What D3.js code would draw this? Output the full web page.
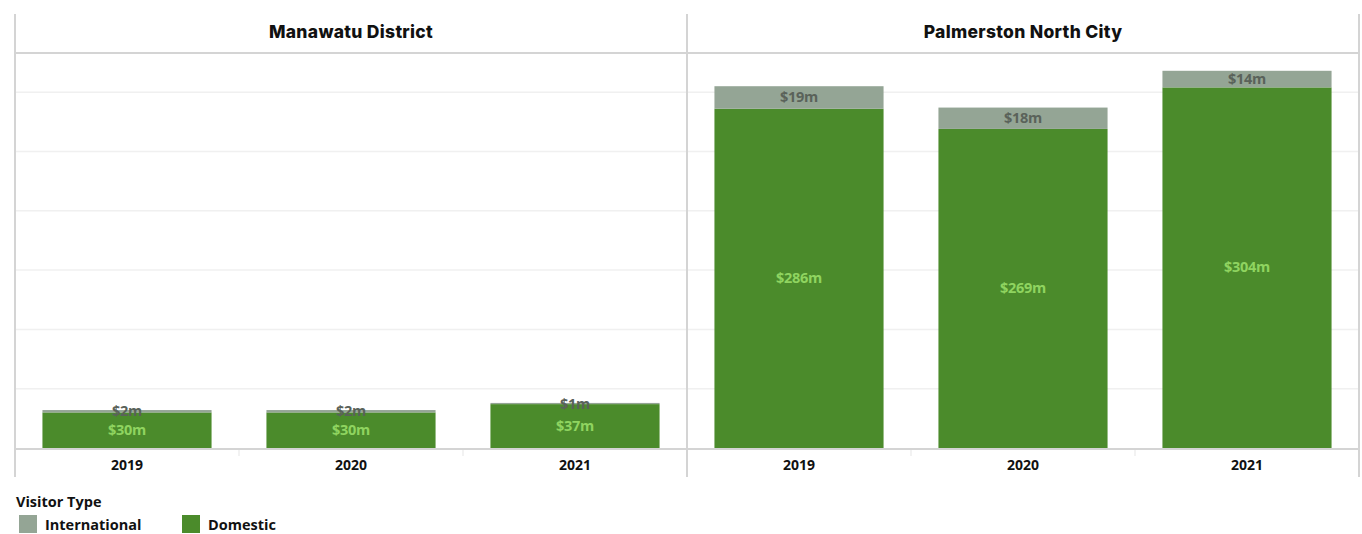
<!DOCTYPE html>
<html>
<head>
<meta charset="utf-8">
<script src="https://cdn.jsdelivr.net/npm/d3@7/dist/d3.min.js"></script>
<style>
  html, body { margin: 0; padding: 0; background: #fff; }
  svg { display: block; }
</style>
</head>
<body>
<svg id="chart" width="1362" height="534"></svg>
<script>
// Visitor spending by district, split into domestic and international ($m)
const regions = ["Manawatu District", "Palmerston North City"];
const years = ["2019", "2020", "2021"];
const domestic = [
  [30, 30, 37],
  [286, 269, 304]
];
const international = [
  [2, 2, 1],
  [19, 18, 14]
];
const gridValues = [50, 100, 150, 200, 250, 300];
const legendItems = ["International", "Domestic"];

const colors = {
  Domestic: "#4b8b2b",
  International: "#94a595",
  domLabel: "#8fd460",
  intLabel: "#5a625a",
  border: "#d4d4d4",
  grid: "#f0f0f0"
};

const svg = d3.select("#chart");

const panelLeft = 15, panelRight = 1359;
const headerTop = 14, headerBottom = 53, baseline = 448, axisBottom = 477;

const panelScale = d3.scaleBand().domain(regions).range([panelLeft, panelRight]);
const y = d3.scaleLinear().domain([0, 333]).range([baseline, headerBottom]);

// gridlines across the full plot width
svg.append("g").selectAll("line").data(gridValues).join("line")
  .attr("x1", panelLeft).attr("x2", panelRight)
  .attr("y1", d => y(d)).attr("y2", d => y(d))
  .attr("stroke", colors.grid).attr("stroke-width", 1.5);

regions.forEach((region, ri) => {
  const x0 = panelScale(region);
  const w = panelScale.bandwidth();
  const x = d3.scaleBand().domain(years).range([x0, x0 + w])
    .paddingInner(0.245).paddingOuter(0.1225);
  const g = svg.append("g");

  // header title
  g.append("text")
    .attr("x", x0 + w / 2).attr("y", 38)
    .attr("text-anchor", "middle")
    .attr("font-family", "Inter, Lato, sans-serif")
    .attr("font-weight", 800).attr("font-size", 17.5)
    .attr("letter-spacing", "0.3px")
    .attr("fill", "#111")
    .text(region);

  const rows = years.map((yr, i) => ({
    year: yr, dom: domestic[ri][i], intl: international[ri][i]
  }));

  // domestic segment
  g.selectAll("rect.dom").data(rows).join("rect")
    .attr("class", "dom")
    .attr("x", d => x(d.year)).attr("width", x.bandwidth())
    .attr("y", d => y(d.dom)).attr("height", d => y(0) - y(d.dom))
    .attr("fill", colors.Domestic);

  // international segment stacked on top
  g.selectAll("rect.intl").data(rows).join("rect")
    .attr("class", "intl")
    .attr("x", d => x(d.year)).attr("width", x.bandwidth())
    .attr("y", d => y(d.dom + d.intl)).attr("height", d => y(d.dom) - y(d.dom + d.intl))
    .attr("fill", colors.International);

  const labelFont = "'Open Sans', 'Noto Sans', sans-serif";

  // domestic labels
  g.selectAll("text.dl").data(rows).join("text")
    .attr("class", "dl")
    .attr("x", d => x(d.year) + x.bandwidth() / 2)
    .attr("y", d => (y(0) + y(d.dom)) / 2)
    .attr("dy", "0.33em")
    .attr("text-anchor", "middle")
    .attr("font-family", labelFont).attr("font-weight", 700).attr("font-size", 14.5)
    .attr("letter-spacing", "-0.3px")
    .attr("fill", colors.domLabel)
    .text(d => `$${d.dom}m`);

  // international labels: centred in the segment, or pinned to its top when thin
  g.selectAll("text.il").data(rows).join("text")
    .attr("class", "il")
    .attr("x", d => x(d.year) + x.bandwidth() / 2)
    .attr("y", d => {
      const top = y(d.dom + d.intl), bottom = y(d.dom);
      return bottom - top >= 16 ? (top + bottom) / 2 : top + 1;
    })
    .attr("dy", "0.33em")
    .attr("text-anchor", "middle")
    .attr("font-family", labelFont).attr("font-weight", 700).attr("font-size", 14.5)
    .attr("letter-spacing", "-0.3px")
    .attr("fill", colors.intLabel)
    .text(d => `$${d.intl}m`);

  // year axis
  const axis = g.append("g")
    .attr("transform", `translate(0,${baseline})`)
    .call(d3.axisBottom(x).tickSize(0).tickPadding(12));
  axis.select(".domain").remove();
  axis.selectAll("text")
    .attr("font-family", labelFont).attr("font-weight", 700).attr("font-size", 14)
    .attr("fill", "#111");

  // faint separators between year bands
  const step = x.step();
  g.selectAll("line.sep").data(years.slice(1)).join("line")
    .attr("class", "sep")
    .attr("x1", d => x(d) - (step - x.bandwidth()) / 2)
    .attr("x2", d => x(d) - (step - x.bandwidth()) / 2)
    .attr("y1", baseline + 1).attr("y2", baseline + 8)
    .attr("stroke", "#eeeeee").attr("stroke-width", 1.5);
});

// frame lines: header rule, baseline and panel dividers
svg.append("line")
  .attr("x1", panelLeft).attr("x2", panelRight)
  .attr("y1", headerBottom).attr("y2", headerBottom)
  .attr("stroke", colors.border).attr("stroke-width", 2);
svg.append("line")
  .attr("x1", panelLeft).attr("x2", panelRight)
  .attr("y1", baseline + 1).attr("y2", baseline + 1)
  .attr("stroke", colors.border).attr("stroke-width", 2);

const dividers = [panelLeft, ...regions.map(r => panelScale(r) + panelScale.bandwidth())];
svg.append("g").selectAll("line").data(dividers).join("line")
  .attr("x1", d => d).attr("x2", d => d)
  .attr("y1", headerTop).attr("y2", axisBottom)
  .attr("stroke", colors.border).attr("stroke-width", 2);

// legend
const legend = svg.append("g");
legend.append("text")
  .attr("x", 16).attr("y", 507)
  .attr("font-family", "'Open Sans', sans-serif").attr("font-weight", 700).attr("font-size", 14.5)
  .attr("fill", "#111")
  .text("Visitor Type");

const legendX = [19, 182];
legendItems.forEach((name, i) => {
  legend.append("rect")
    .attr("x", legendX[i]).attr("y", 515).attr("width", 18).attr("height", 18)
    .attr("fill", colors[name]);
  legend.append("text")
    .attr("x", legendX[i] + 26).attr("y", 530)
    .attr("font-family", "'Open Sans', sans-serif").attr("font-weight", 700).attr("font-size", 14.5)
    .attr("fill", "#111")
    .text(name);
});
</script>
</body>
</html>
